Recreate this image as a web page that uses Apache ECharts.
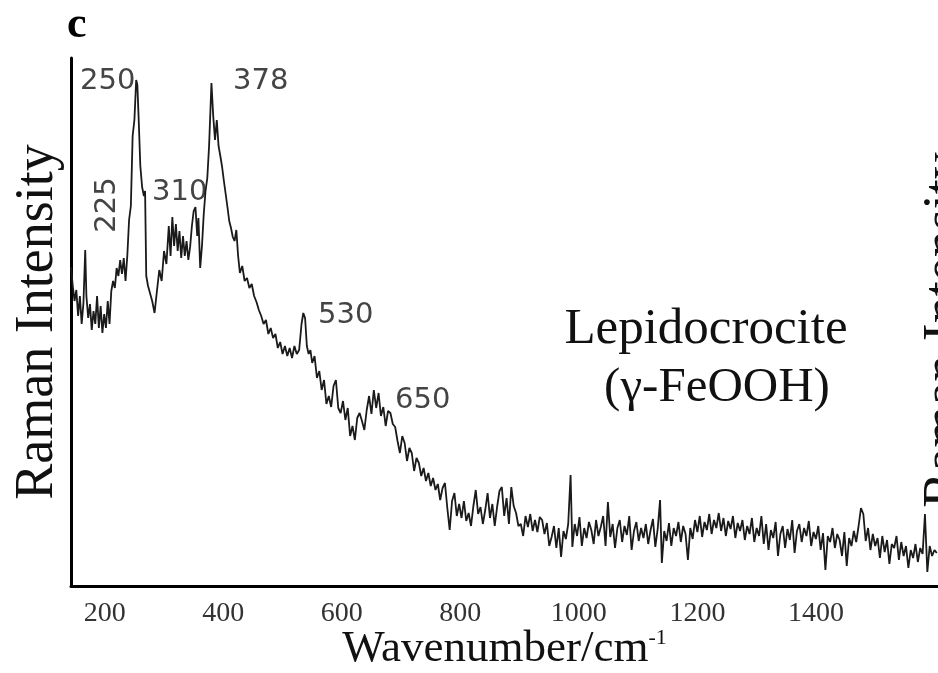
<!DOCTYPE html>
<html>
<head>
<meta charset="utf-8">
<script src="https://cdn.jsdelivr.net/npm/echarts@6/dist/echarts.min.js"></script>
<style>
  html, body { margin: 0; padding: 0; background: #fff; }
  #raman_chart { width: 938px; height: 673px; }
</style>
</head>
<body>
<div id="raman_chart"></div>
<script>
// spectrum (wavenumber / relative intensity)
var wavenumbers = [
  143,146,149,152,155,158,161,164,167,169,172,175,178,181,184,187,190,193,196,199,
  202,205,208,211,214,217,220,223,226,229,232,235,238,241,244,247,250,253,255,257,
  260,263,266,268,270,273,276,280,284,288,292,296,300,304,308,311,314,317,320,323,
  326,329,332,335,338,341,344,347,350,353,356,358,361,364,367,370,373,376,380,383,
  386,389,392,395,398,401,404,407,410,413,416,419,422,425,428,432,436,440,444,448,
  452,456,460,464,468,472,476,480,484,488,492,496,500,504,508,512,516,520,524,528,
  532,535,538,541,544,547,550,554,558,562,566,570,574,578,582,586,590,594,598,602,
  606,610,614,618,622,626,630,634,638,642,646,650,654,658,662,666,670,674,678,682,
  686,690,694,698,702,706,710,714,718,722,726,730,734,738,742,746,750,754,758,762,
  766,770,774,778,782,786,790,794,798,802,806,810,814,818,822,826,830,834,838,842,
  846,850,854,858,862,866,870,874,878,882,886,890,894,898,902,906,910,914,918,922,
  926,930,934,938,942,946,950,954,958,962,966,970,974,978,982,986,989,993,997,1001,
  1005,1009,1013,1017,1021,1025,1029,1033,1037,1041,1045,1049,1053,1057,1061,1065,1069,1073,1077,1081,
  1085,1089,1093,1097,1101,1105,1109,1113,1117,1121,1125,1129,1133,1137,1140,1144,1148,1152,1156,1160,
  1164,1168,1172,1176,1180,1184,1188,1192,1196,1200,1204,1208,1212,1216,1220,1224,1228,1232,1236,1240,
  1244,1248,1252,1256,1260,1264,1268,1272,1276,1280,1284,1288,1292,1296,1300,1304,1308,1312,1316,1320,
  1324,1328,1332,1336,1340,1344,1348,1352,1356,1360,1364,1368,1372,1376,1380,1384,1388,1392,1396,1400,
  1404,1408,1412,1416,1420,1424,1428,1432,1436,1440,1444,1448,1452,1456,1460,1464,1468,1472,1476,1480,
  1484,1488,1492,1496,1500,1504,1508,1512,1516,1520,1524,1528,1532,1536,1540,1544,1548,1552,1556,1560,
  1564,1568,1572,1576,1580,1584,1588,1592,1596,1600,1604
];
var intensities = [
  319,300,285,296,270,290,262,283,336,290,268,282,256,275,262,290,258,280,253,272,
  258,285,262,295,305,298,318,310,326,312,328,305,330,366,380,450,466,506,501,470,
  420,399,390,395,310,300,299,285,273,295,316,305,335,322,360,330,369,340,362,335,
  355,328,350,330,345,326,339,360,375,379,350,368,318,340,372,395,408,440,503,470,
  446,466,440,430,419,405,392,379,365,358,349,345,356,330,313,320,305,308,298,302,
  290,284,276,270,262,266,252,258,248,252,238,244,232,240,230,238,228,240,232,236,
  262,273,268,240,232,236,223,230,208,215,196,206,182,190,179,200,206,178,173,185,
  166,178,150,160,146,168,173,165,156,176,190,172,196,178,193,170,179,160,175,173,
  162,159,145,133,150,143,125,138,133,115,128,123,110,118,105,113,100,108,96,102,
  86,98,103,78,56,85,93,70,82,68,85,65,73,60,80,96,72,79,62,76,
  93,68,82,60,79,95,99,70,88,62,99,80,73,60,62,50,70,59,72,55,
  66,54,69,66,52,63,40,49,60,38,58,29,55,47,62,111,39,62,50,69,
  40,58,48,64,56,42,66,50,59,70,40,84,49,62,38,58,66,44,60,51,
  70,36,55,64,45,58,48,62,42,56,67,39,57,86,23,55,45,63,40,58,
  50,64,44,60,52,26,58,47,66,54,70,49,64,56,72,52,66,58,73,55,
  68,50,65,57,70,48,63,55,66,46,60,52,68,44,58,50,70,42,62,36,
  56,48,64,30,52,60,38,57,46,66,33,55,62,44,58,50,65,40,54,47,
  60,36,53,16,50,44,58,38,52,46,30,54,20,48,40,55,44,60,78,72,
  45,58,36,52,40,48,28,50,34,46,22,42,38,50,26,44,30,40,18,36,
  28,42,24,38,32,72,14,40,30,36,33
];
var tickLabels = [200, 400, 600, 800, 1000, 1200, 1400];
var peakLabels = ['250', '378', '225', '310', '530', '650'];

var spectrum = [];
for (var i = 0; i < wavenumbers.length; ++i) {
  spectrum.push([wavenumbers[i], intensities[i]]);
}

var serif = '"Liberation Serif", "DejaVu Serif", serif';
var sans = '"DejaVu Sans", Verdana, sans-serif';

function peakText(text, x, y, rot) {
  return {
    type: 'text',
    x: x,
    y: y,
    rotation: rot || 0,
    style: {
      text: text,
      font: '29px ' + sans,
      fill: '#444',
      textAlign: rot ? 'center' : 'left',
      textVerticalAlign: 'middle'
    }
  };
}

var option = {
  backgroundColor: '#fff',
  animation: false,
  grid: { left: 71, right: 0, top: 58, bottom: 87, outerBoundsMode: 'none', containLabel: false },
  xAxis: {
    type: 'value',
    min: 143,
    max: 1606,
    splitNumber: 7,
    name: 'Wavenumber/cm{sup|-1}',
    nameLocation: 'middle',
    nameMoveOverlap: false,
    nameGap: 41,
    nameTextStyle: {
      fontFamily: serif,
      fontSize: 45,
      lineHeight: 45,
      color: '#111',
      rich: {
        sup: { fontFamily: serif, fontSize: 22, lineHeight: 45, color: '#111', verticalAlign: 'top' }
      }
    },
    axisLine: { show: true, onZero: false, lineStyle: { color: '#000', width: 3 } },
    axisTick: { show: false },
    splitLine: { show: false },
    axisLabel: {
      margin: 14,
      fontFamily: serif,
      fontSize: 28,
      color: '#333',
      showMinLabel: false,
      showMaxLabel: false,
      formatter: function (v) {
        return tickLabels.indexOf(v) >= 0 ? String(v) : '';
      }
    }
  },
  yAxis: {
    type: 'value',
    min: 0,
    max: 528,
    name: 'Raman Intensity',
    nameLocation: 'middle',
    nameMoveOverlap: false,
    nameGap: 6,
    nameTextStyle: { fontFamily: serif, fontSize: 54, color: '#111' },
    axisLine: { show: true, onZero: false, lineStyle: { color: '#000', width: 3 } },
    axisTick: { show: false },
    axisLabel: { show: false },
    splitLine: { show: false }
  },
  series: [
    {
      name: 'Lepidocrocite',
      type: 'line',
      data: spectrum,
      showSymbol: false,
      symbol: 'none',
      smooth: false,
      lineStyle: { color: '#1a1a1a', width: 1.8 }
    }
  ],
  graphic: [
    {
      type: 'text', x: 67, y: 26,
      style: { text: 'c', font: 'bold 44px ' + serif, fill: '#000', textVerticalAlign: 'middle' }
    },
    peakText(peakLabels[0], 80, 81),
    peakText(peakLabels[1], 233, 81),
    peakText(peakLabels[2], 107, 205, Math.PI / 2),
    peakText(peakLabels[3], 152, 192),
    peakText(peakLabels[4], 318, 315),
    peakText(peakLabels[5], 395, 400),
    {
      type: 'text', x: 706, y: 330,
      style: { text: 'Lepidocrocite', font: '51px ' + serif, fill: '#111', textAlign: 'center', textVerticalAlign: 'middle' }
    },
    {
      type: 'text', x: 717, y: 388,
      style: { text: '(\u03b3-FeOOH)', font: '49px ' + serif, fill: '#111', textAlign: 'center', textVerticalAlign: 'middle' }
    },
    {
      // neighbouring panel's axis title, cut by the right edge
      type: 'text', x: 946, y: 330, rotation: Math.PI / 2,
      style: { text: 'Raman Intensity', font: '54px ' + serif, fill: '#111', textAlign: 'center', textVerticalAlign: 'middle' }
    }
  ]
};

var chart = echarts.init(document.getElementById('raman_chart'));
chart.setOption(option);
</script>
</body>
</html>
